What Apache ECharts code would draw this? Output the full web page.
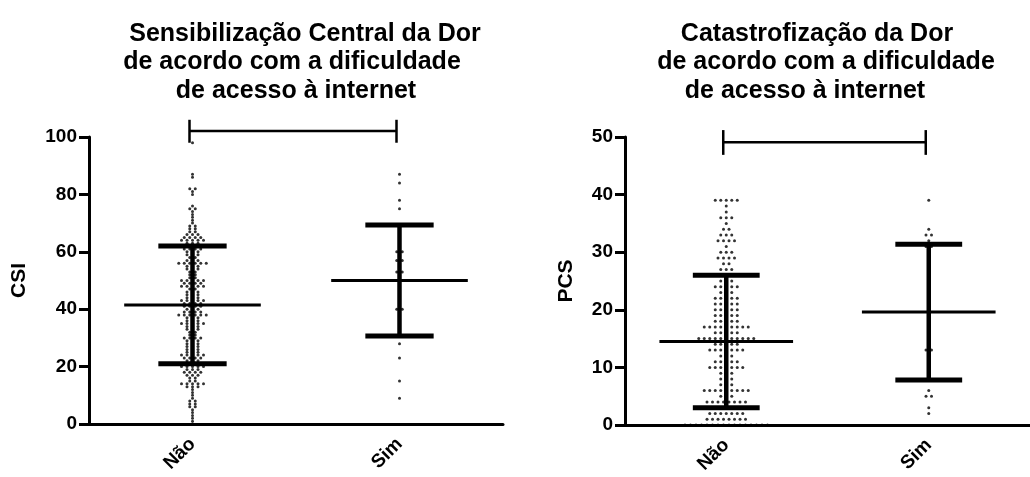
<!DOCTYPE html>
<html><head><meta charset="utf-8">
<script src="https://cdn.jsdelivr.net/npm/echarts@6/dist/echarts.min.js"></script>
<style>html,body{margin:0;padding:0;background:#fff}#c{width:1030px;height:477px}</style>
</head><body><div id="c"></div>
<script>
const categories = ['Não', 'Sim'];

// CSI (0-100): counts per integer score for "Não" (index = score)
const csiNaoCounts = [
  1,1,1,1,1,1,2,2,2,1,
  1,1,1,3,5,2,2,3,4,3,
  5,4,3,4,5,3,3,3,3,3,
  4,2,2,3,3,5,3,3,6,4,
  3,4,4,5,3,3,3,2,5,4,
  5,2,2,2,3,3,6,3,2,3,
  3,4,3,3,5,4,3,2,2,2,
  1,1,1,1,1,2,1,0,0,0,
  1,1,2,0,0,0,1,1,0,0,
  0,0,0,0,0,0,0,0,1
];
const csiSimValues = [87,84,78,75,60,60,57,57,53,53,40,40,28,23,15,9];
const csiMean = [41.5, 50.0];
const csiSD = [20.5, 19.3];
const csiBracket = [102.1, 106, 98];

// PCS (0-50): counts per integer score for "Não"
const pcsNaoCounts = [
  16,8,7,5,8,3,9,3,3,3,
  7,5,3,7,5,11,5,9,5,5,
  5,5,5,3,5,3,3,3,2,4,
  3,1,4,3,2,1,3,1,1,5
];
const pcsSimValues = [39,34,33,33,32,31,31,13,13,6,5,5,3,2];
const pcsMean = [14.5, 19.6];
const pcsSD = [11.5, 11.8];
const pcsBracket = [49.1, 51.2, 46.9];

const csiTicks = { min: 0, max: 100, interval: 20 };
const pcsTicks = { min: 0, max: 50, interval: 10 };

const titleLeft = ['Sensibilização Central da Dor', 'de acordo com a dificuldade', 'de acesso à internet'];
const titleRight = ['Catastrofização da Dor', 'de acordo com a dificuldade', 'de acesso à internet'];

const FONT = 'Liberation Sans, Arial, sans-serif';
const DOT_SPACING = 5.5;

function expandCounts(counts) {
  const out = [];
  counts.forEach((n, v) => { for (let i = 0; i < n; i++) out.push(v); });
  return out;
}
function swarm(values, catIdx) {
  const groups = {};
  values.forEach(v => { (groups[v] = groups[v] || []).push(v); });
  const items = [];
  Object.keys(groups).forEach(k => {
    const n = groups[k].length;
    for (let i = 0; i < n; i++) {
      items.push({ value: [catIdx, Number(k)], symbolOffset: [(i - (n - 1) / 2) * DOT_SPACING, 0] });
    }
  });
  return items;
}

function errRender(params, api) {
  const c = api.value(0), m = api.value(1), s = api.value(2);
  const bw = api.size([1, 0])[0];
  const pm = api.coord([c, m]), pt = api.coord([c, m + s]), pb = api.coord([c, m - s]);
  const mw = bw * 0.33, cw = bw * 0.165;
  const st = w => ({ stroke: '#000', lineWidth: w });
  return { type: 'group', children: [
    { type: 'line', shape: { x1: pt[0], y1: pt[1], x2: pb[0], y2: pb[1] }, style: st(4.5) },
    { type: 'line', shape: { x1: pm[0] - mw, y1: pm[1], x2: pm[0] + mw, y2: pm[1] }, style: st(3) },
    { type: 'line', shape: { x1: pt[0] - cw, y1: pt[1], x2: pt[0] + cw, y2: pt[1] }, style: st(5) },
    { type: 'line', shape: { x1: pb[0] - cw, y1: pb[1], x2: pb[0] + cw, y2: pb[1] }, style: st(5) }
  ]};
}
function bracketRender(params, api) {
  const y = api.value(0), t = api.value(1), b = api.value(2);
  const a = api.coord([0, y]), e = api.coord([1, y]);
  const at = api.coord([0, t]), ab = api.coord([0, b]);
  const dx = -3;
  const st = { stroke: '#000', lineWidth: 2.5 };
  return { type: 'group', children: [
    { type: 'line', shape: { x1: a[0] + dx, y1: a[1], x2: e[0] + dx, y2: e[1] }, style: st },
    { type: 'line', shape: { x1: a[0] + dx, y1: at[1], x2: a[0] + dx, y2: ab[1] }, style: st },
    { type: 'line', shape: { x1: e[0] + dx, y1: at[1], x2: e[0] + dx, y2: ab[1] }, style: st }
  ]};
}

function xAxisCfg(gi) {
  return {
    type: 'category', gridIndex: gi, data: categories, boundaryGap: true,
    axisLine: { lineStyle: { color: '#000', width: 3 } },
    axisTick: { alignWithLabel: true, length: 9, lineStyle: { color: '#000', width: 3 } },
    axisLabel: { rotate: 45, fontSize: 19, fontWeight: 'bold', color: '#000', fontFamily: FONT, margin: 17 },
    splitLine: { show: false }
  };
}
function yAxisCfg(gi, ticks, name, gap) {
  return {
    type: 'value', gridIndex: gi, min: ticks.min, max: ticks.max, interval: ticks.interval,
    name: name, nameLocation: 'middle', nameGap: gap,
    nameTextStyle: { fontSize: 21, fontWeight: 'bold', color: '#000', fontFamily: FONT },
    axisLine: { show: true, lineStyle: { color: '#000', width: 3 } },
    axisTick: { show: true, length: 10, lineStyle: { color: '#000', width: 3 } },
    axisLabel: { fontSize: 19, fontWeight: 'bold', color: '#000', fontFamily: FONT, margin: 12 },
    splitLine: { show: false }
  };
}
function titleText(lines, centers) {
  return lines.map((t, i) => ({
    type: 'text', x: centers[i], y: 34 + i * 28.5,
    style: { text: t, fill: '#000', font: 'bold 25px ' + FONT, textAlign: 'center', textVerticalAlign: 'middle' }
  }));
}
const dotStyle = { color: '#000' };

const option = {
  backgroundColor: '#fff',
  animation: false,
  grid: [
    { left: 89, top: 137, width: 414, height: 287 },
    { left: 625, top: 137, width: 416, height: 288 }
  ],
  xAxis: [xAxisCfg(0), xAxisCfg(1)],
  yAxis: [yAxisCfg(0, csiTicks, 'CSI', 59), yAxisCfg(1, pcsTicks, 'PCS', 48)],
  graphic: [].concat(titleText(titleLeft, [305, 292, 296]), titleText(titleRight, [817, 826, 805])),
  series: [
    { type: 'scatter', xAxisIndex: 0, yAxisIndex: 0, symbolSize: 3, itemStyle: dotStyle, z: 3,
      data: swarm(expandCounts(csiNaoCounts), 0).concat(swarm(csiSimValues, 1)) },
    { type: 'scatter', xAxisIndex: 1, yAxisIndex: 1, symbolSize: 3, itemStyle: dotStyle, z: 3,
      data: swarm(expandCounts(pcsNaoCounts), 0).concat(swarm(pcsSimValues, 1)) },
    { type: 'custom', xAxisIndex: 0, yAxisIndex: 0, renderItem: errRender, z: 4,
      data: categories.map((c, i) => [i, csiMean[i], csiSD[i]]) },
    { type: 'custom', xAxisIndex: 1, yAxisIndex: 1, renderItem: errRender, z: 4,
      data: categories.map((c, i) => [i, pcsMean[i], pcsSD[i]]) },
    { type: 'custom', xAxisIndex: 0, yAxisIndex: 0, renderItem: bracketRender, clip: false, z: 4,
      data: [csiBracket] },
    { type: 'custom', xAxisIndex: 1, yAxisIndex: 1, renderItem: bracketRender, clip: false, z: 4,
      data: [pcsBracket] }
  ]
};
const chart = echarts.init(document.getElementById('c'), null, { renderer: 'canvas' });
chart.setOption(option);
</script>
</body></html>
